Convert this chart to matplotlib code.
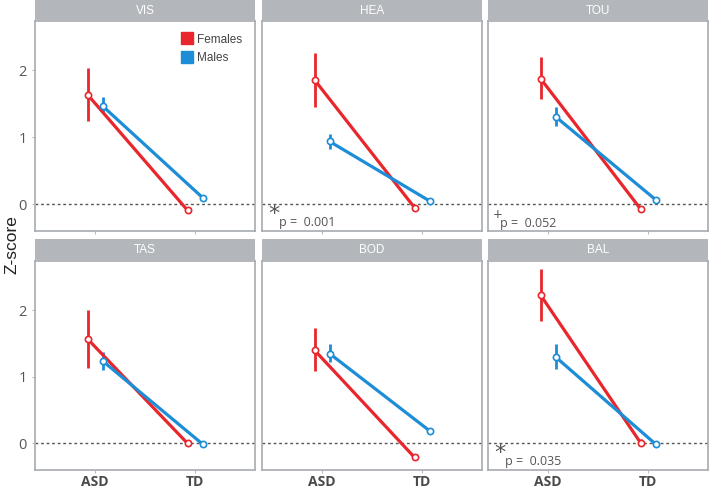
import matplotlib
matplotlib.use("Agg")
import matplotlib.pyplot as plt
from matplotlib.lines import Line2D

# data
domains = ["VIS", "HEA", "TOU", "TAS", "BOD", "BAL"]
groups = ["ASD", "TD"]

fem_mean = [[1.64, -0.09], [1.86, -0.05], [1.88, -0.07], [1.57, 0.00], [1.40, -0.21], [2.23, 0.01]]
fem_lo = [[1.25, -0.13], [1.46, -0.09], [1.58, -0.11], [1.13, -0.04], [1.08, -0.24], [1.84, -0.04]]
fem_hi = [[2.04, -0.05], [2.26, -0.01], [2.20, -0.03], [2.01, 0.04], [1.74, -0.18], [2.62, 0.06]]

male_mean = [[1.47, 0.10], [0.94, 0.05], [1.31, 0.07], [1.24, -0.01], [1.35, 0.19], [1.30, -0.01]]
male_lo = [[1.38, 0.06], [0.83, 0.01], [1.17, 0.03], [1.10, -0.05], [1.23, 0.15], [1.12, -0.05]]
male_hi = [[1.60, 0.14], [1.05, 0.09], [1.45, 0.11], [1.37, 0.03], [1.49, 0.23], [1.49, 0.03]]

# significance notes: (domain, symbol, p text)
notes = {"HEA": ("*", "p =  0.001"), "TOU": ("+", "p =  0.052"), "BAL": ("*", "p =  0.035")}

RED = "#E8262B"
BLUE = "#1C8DD6"
STRIP = "#B3B7BC"
BORDER = "#A7ABB1"

W, H = 709, 491
fig = plt.figure(figsize=(W / 100, H / 100), dpi=100)

col_left = [35, 262, 488]
pw = 220
rows = [(0, 21, 231), (239, 261, 470)]  # strip top, plot top, plot bottom (px)

dodge = 0.075
xs = [1, 2]

for i, dom in enumerate(domains):
    r, c = divmod(i, 3)
    st, pt, pb = rows[r]
    x0 = col_left[c]
    ax = fig.add_axes([x0 / W, 1 - pb / H, pw / W, (pb - pt) / H])
    sax = fig.add_axes([x0 / W, 1 - pt / H, pw / W, (pt - st) / H])
    sax.set_facecolor(STRIP)
    sax.set_xticks([])
    sax.set_yticks([])
    for s in sax.spines.values():
        s.set_visible(False)
    sax.text(0.5, 0.5, dom, color="white", fontsize=8.5, ha="center", va="center",
             family="Liberation Sans", transform=sax.transAxes)

    ax.axhline(0, color="#555555", lw=1.0, ls=(0, (2, 2)), zorder=1)

    for mean, lo, hi, col, off in [(fem_mean[i], fem_lo[i], fem_hi[i], RED, -dodge),
                                   (male_mean[i], male_lo[i], male_hi[i], BLUE, dodge)]:
        px = [x + off for x in xs]
        ax.vlines(px, lo, hi, color=col, lw=2.0, zorder=2)
        ax.plot(px, mean, color=col, lw=2.3, zorder=3, solid_capstyle="butt")
        ax.plot(px, mean, ls="none", marker="o", ms=4.5, mfc="white", mec=col, mew=1.2, zorder=4)

    ax.set_xlim(0.4, 2.6)
    ax.set_ylim(-0.4, 2.74)
    for s in ax.spines.values():
        s.set_color(BORDER)
        s.set_linewidth(1.2)

    ax.set_xticks(xs)
    ax.set_yticks([0, 1, 2])
    ax.tick_params(length=2.5, color="#BBBBBB", width=0.8)
    ax.tick_params(axis="x", pad=0.8)
    if r == 1:
        ax.set_xticklabels(groups, fontsize=10, fontweight="bold", color="#4A4A4A",
                           family="Open Sans")
    else:
        ax.set_xticklabels([])
    if c == 0:
        ax.set_yticklabels(["0", "1", "2"], fontsize=10.5, color="#555555", family="Open Sans")
    else:
        ax.set_yticklabels([])
        ax.tick_params(axis="y", length=0)

    if dom in notes:
        sym, ptxt = notes[dom]
        if sym == "*":
            ax.text(0.46, -0.15, sym, fontsize=16, color="#555555", ha="left", va="center",
                    family="DejaVu Sans")
            ax.text(0.57, -0.27, ptxt, fontsize=9, color="#555555",
                    ha="left", va="center", family="Open Sans")
        else:
            ax.text(0.45, -0.16, sym, fontsize=8.5, color="#555555", ha="left", va="center",
                    family="DejaVu Sans")
            ax.text(0.52, -0.29, ptxt, fontsize=9, color="#555555",
                    ha="left", va="center", family="Open Sans")

    if dom == "VIS":
        handles = [Line2D([], [], ls="none", marker="s", ms=9, mfc=RED, mec=RED),
                   Line2D([], [], ls="none", marker="s", ms=9, mfc=BLUE, mec=BLUE)]
        leg = ax.legend(handles, ["Females", "Males"], loc="upper left",
                        bbox_to_anchor=(0.665, 0.94), frameon=False,
                        handlelength=1.0, handletextpad=0.3, labelspacing=0.55,
                        borderpad=0, borderaxespad=0,
                        prop={"family": "Liberation Sans", "size": 8.5})
        for t in leg.get_texts():
            t.set_color("#444444")

fig.text(12 / W, 1 - 245 / H, "Z-score", rotation=90, fontsize=12.5, ha="center", va="center",
         family="Liberation Sans", color="#222222")

fig.savefig("out.png", dpi=100)
